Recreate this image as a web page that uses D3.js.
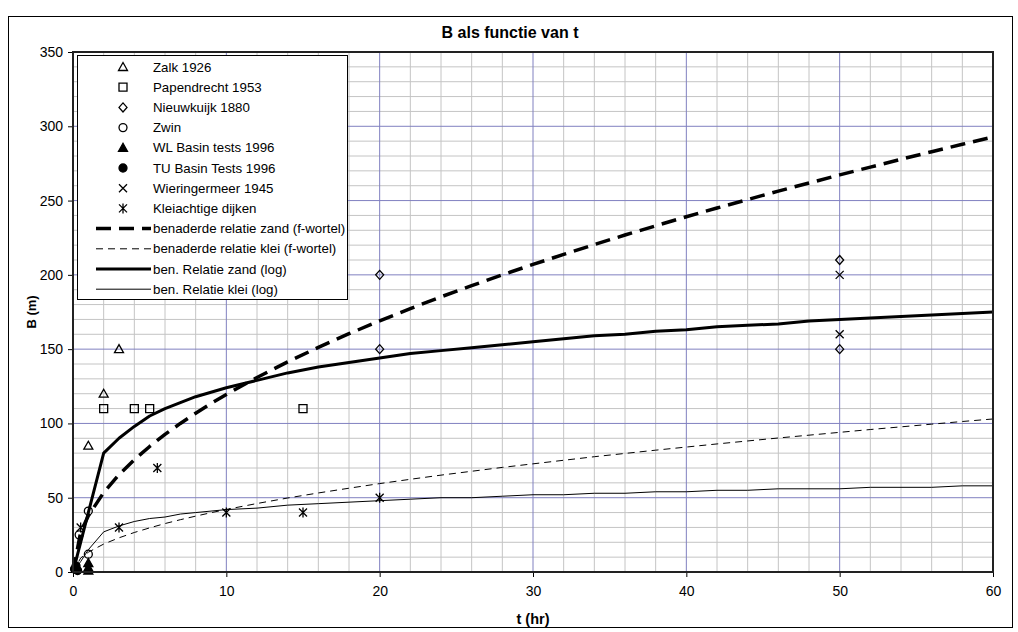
<!DOCTYPE html>
<html>
<head>
<meta charset="utf-8">
<script src="https://cdn.jsdelivr.net/npm/d3@7"></script>
<style>
  html, body { margin: 0; padding: 0; background: #fff; }
  svg { display: block; }
  text { font-family: Arial, "Liberation Sans", sans-serif; fill: #000; }
</style>
</head>
<body>
<svg id="chart" width="1018" height="632"></svg>
<script>
// ---- data ----------------------------------------------------------------
const xTicks = [0, 10, 20, 30, 40, 50, 60];
const yTicks = [0, 50, 100, 150, 200, 250, 300, 350];

// field observations (t in hours, B in metres)
const zalk1926        = [[1, 85], [2, 120], [3, 150]];
const papendrecht1953 = [[2, 110], [4, 110], [5, 110], [15, 110]];
const nieuwkuijk1880  = [[20, 200], [20, 150], [50, 210], [50, 150]];
const zwin            = [[0.4, 25], [1, 12], [1, 41]];
const wlBasin1996     = [[1, 1], [1, 3], [1, 6]];
const tuBasin1996     = [[0.1, 2], [0.2, 4], [0.3, 1]];
const wieringermeer1945 = [[50, 200], [50, 160]];
const kleiachtig      = [[0.5, 30], [3, 30], [5.5, 70], [10, 40], [15, 40], [20, 50]];

// approximation curves
const tCurve = [0, 0.5, 1, 2, 3, 4, 5, 6, 7, 8, 9, 10, 12, 14, 16, 18, 20, 22, 24, 26, 28,
                30, 32, 34, 36, 38, 40, 42, 44, 46, 48, 50, 52, 54, 56, 58, 60];
const zandWortel = [0, 26.7, 37.8, 53.5, 65.5, 75.6, 84.5, 92.6, 100, 106.9, 113.4, 119.5,
                    130.9, 141.4, 151.2, 160.4, 169, 177.3, 185.2, 192.7, 200, 207, 213.8,
                    220.4, 226.8, 233, 239.1, 245, 250.7, 256.4, 261.8, 267.3, 272.5, 277.8,
                    282.9, 287.9, 292.8];
const kleiWortel = [0, 9.4, 13.3, 18.8, 23, 26.6, 29.7, 32.6, 35.2, 37.6, 39.9, 42.1,
                    46.1, 49.8, 53.2, 56.4, 59.5, 62.4, 65.2, 67.8, 70.4, 72.8, 75.2,
                    77.6, 79.8, 82, 84.1, 86.2, 88.2, 90.2, 92.1, 94, 95.9, 97.7,
                    99.5, 101.3, 103];
const zandLog = [0, 20, 40, 80, 90, 98, 105, 110, 114, 118, 121, 124, 129, 134, 138, 141,
                 144, 147, 149, 151, 153, 155, 157, 159, 160, 162, 163, 165, 166, 167, 169,
                 170, 171, 172, 173, 174, 175];
const kleiLog = [0, 7, 15, 27, 31, 34, 36, 37, 39, 40, 41, 42, 43, 45, 46, 47, 48, 49, 50,
                 50, 51, 52, 52, 53, 53, 54, 54, 55, 55, 56, 56, 56, 57, 57, 57, 58, 58];

// ---- layout ----------------------------------------------------------------
const svg = d3.select("#chart");
const plot = { left: 73, right: 993, top: 52, bottom: 572 };

const x = d3.scaleLinear().domain([0, 60]).range([plot.left, plot.right]);
const y = d3.scaleLinear().domain([0, 350]).range([plot.bottom, plot.top]);

// chart frame
svg.append("rect")
  .attr("x", 8.5).attr("y", 16.5).attr("width", 1004).attr("height", 611)
  .attr("fill", "#fff").attr("stroke", "#000").attr("stroke-width", 1);

svg.append("text")
  .attr("x", 510).attr("y", 38)
  .attr("text-anchor", "middle").attr("font-weight", "bold").attr("font-size", 16)
  .text("B als functie van t");

// grid: minor lines first, then the major ones
const grid = svg.append("g");
const xMinor = d3.range(0, 61, 2).filter(v => v % 10 !== 0);
const yMinor = d3.range(0, 351, 10).filter(v => v % 50 !== 0);

grid.selectAll(".xm").data(xMinor).join("line")
  .attr("x1", d => x(d)).attr("x2", d => x(d))
  .attr("y1", plot.top).attr("y2", plot.bottom)
  .attr("stroke", "#c4c4c4").attr("stroke-width", 1);
grid.selectAll(".ym").data(yMinor).join("line")
  .attr("x1", plot.left).attr("x2", plot.right)
  .attr("y1", d => y(d)).attr("y2", d => y(d))
  .attr("stroke", "#c4c4c4").attr("stroke-width", 1);
grid.selectAll(".xM").data(xTicks).join("line")
  .attr("x1", d => x(d)).attr("x2", d => x(d))
  .attr("y1", plot.top).attr("y2", plot.bottom)
  .attr("stroke", "#8080c0").attr("stroke-width", 1);
grid.selectAll(".yM").data(yTicks).join("line")
  .attr("x1", plot.left).attr("x2", plot.right)
  .attr("y1", d => y(d)).attr("y2", d => y(d))
  .attr("stroke", "#8080c0").attr("stroke-width", 1);

// axes
const xAxis = svg.append("g")
  .attr("transform", `translate(0,${plot.bottom})`)
  .call(d3.axisBottom(x).tickValues(xTicks).tickSize(5).tickPadding(9));
const yAxis = svg.append("g")
  .attr("transform", `translate(${plot.left},0)`)
  .call(d3.axisLeft(y).tickValues(yTicks).tickSize(5).tickPadding(5));
[xAxis, yAxis].forEach(a => {
  a.select(".domain").remove();
  a.selectAll("line").attr("stroke", "#000");
  a.selectAll("text").attr("font-size", 14)
    .attr("font-family", 'Arial, "Liberation Sans", sans-serif');
});

svg.append("text")
  .attr("x", (plot.left + plot.right) / 2).attr("y", 624)
  .attr("text-anchor", "middle").attr("font-weight", "bold").attr("font-size", 14.5)
  .text("t (hr)");
svg.append("text")
  .attr("transform", `translate(36,${(plot.top + plot.bottom) / 2}) rotate(-90)`)
  .attr("text-anchor", "middle").attr("font-weight", "bold").attr("font-size", 13)
  .text("B (m)");

// clip for curves
svg.append("clipPath").attr("id", "plotClip").append("rect")
  .attr("x", plot.left).attr("y", plot.top)
  .attr("width", plot.right - plot.left).attr("height", plot.bottom - plot.top);

const lineGen = d3.line().x(d => x(d[0])).y(d => y(d[1]));
const curves = [
  { name: "benaderde relatie zand (f-wortel)", values: zandWortel, width: 3.5, dash: "15,8" },
  { name: "benaderde relatie klei (f-wortel)", values: kleiWortel, width: 1, dash: "7,5" },
  { name: "ben. Relatie zand (log)", values: zandLog, width: 3, dash: null },
  { name: "ben. Relatie klei (log)", values: kleiLog, width: 1, dash: null }
];

const curveG = svg.append("g").attr("clip-path", "url(#plotClip)");
curves.forEach(c => {
  curveG.append("path")
    .datum(tCurve.map((t, i) => [t, c.values[i]]))
    .attr("d", lineGen)
    .attr("fill", "none").attr("stroke", "#000")
    .attr("stroke-width", c.width)
    .attr("stroke-dasharray", c.dash)
    .attr("stroke-linejoin", "round");
});

// marker shapes
function markerPath(kind) {
  switch (kind) {
    case "triangle": return "M0,-4.5L4.5,3.5L-4.5,3.5Z";
    case "square": return "M-4,-4H4V4H-4Z";
    case "diamond": return "M0,-4.5L4,0L0,4.5L-4,0Z";
    case "circle": return d3.symbol(d3.symbolCircle, 50)();
    case "x": return "M-4,-4L4,4M-4,4L4,-4";
    case "asterisk": return "M-4,-4L4,4M-4,4L4,-4M0,-5L0,5";
  }
}

const observations = [
  { name: "Zalk 1926", data: zalk1926, kind: "triangle", fill: "none" },
  { name: "Papendrecht 1953", data: papendrecht1953, kind: "square", fill: "none" },
  { name: "Nieuwkuijk 1880", data: nieuwkuijk1880, kind: "diamond", fill: "none" },
  { name: "Zwin", data: zwin, kind: "circle", fill: "none" },
  { name: "WL Basin tests 1996", data: wlBasin1996, kind: "triangle", fill: "#000" },
  { name: "TU Basin Tests 1996", data: tuBasin1996, kind: "circle", fill: "#000" },
  { name: "Wieringermeer 1945", data: wieringermeer1945, kind: "x", fill: "none" },
  { name: "Kleiachtige dijken", data: kleiachtig, kind: "asterisk", fill: "none" }
];

const markG = svg.append("g");
observations.forEach(s => {
  markG.selectAll(null).data(s.data).join("path")
    .attr("transform", d => `translate(${x(d[0])},${y(d[1])})`)
    .attr("d", markerPath(s.kind))
    .attr("fill", s.fill === "none" ? "#fff" : s.fill)
    .attr("fill-opacity", s.fill === "none" ? 0 : 1)
    .attr("stroke", "#000").attr("stroke-width", 1.3);
});

// plot frame on top
svg.append("rect")
  .attr("x", plot.left).attr("y", plot.top)
  .attr("width", plot.right - plot.left).attr("height", plot.bottom - plot.top)
  .attr("fill", "none").attr("stroke", "#222").attr("stroke-width", 2);

// legend
const legend = svg.append("g");
legend.append("rect")
  .attr("x", 77.5).attr("y", 55.5).attr("width", 270).attr("height", 244)
  .attr("fill", "#fff").attr("stroke", "#000").attr("stroke-width", 1);

const rowY = i => 67 + i * 20.2;
observations.forEach((s, i) => {
  legend.append("path")
    .attr("transform", `translate(123,${rowY(i)})`)
    .attr("d", markerPath(s.kind))
    .attr("fill", s.fill === "none" ? "none" : s.fill)
    .attr("stroke", "#000").attr("stroke-width", 1.3);
  legend.append("text")
    .attr("x", 153).attr("y", rowY(i)).attr("dy", "0.35em")
    .attr("font-size", 13.3).text(s.name);
});
curves.forEach((c, j) => {
  const i = observations.length + j;
  legend.append("line")
    .attr("x1", 96).attr("x2", 151)
    .attr("y1", rowY(i)).attr("y2", rowY(i))
    .attr("stroke", "#000").attr("stroke-width", c.width)
    .attr("stroke-dasharray", c.dash);
  legend.append("text")
    .attr("x", 153).attr("y", rowY(i)).attr("dy", "0.35em")
    .attr("font-size", 13.3).text(c.name);
});
</script>
</body>
</html>
